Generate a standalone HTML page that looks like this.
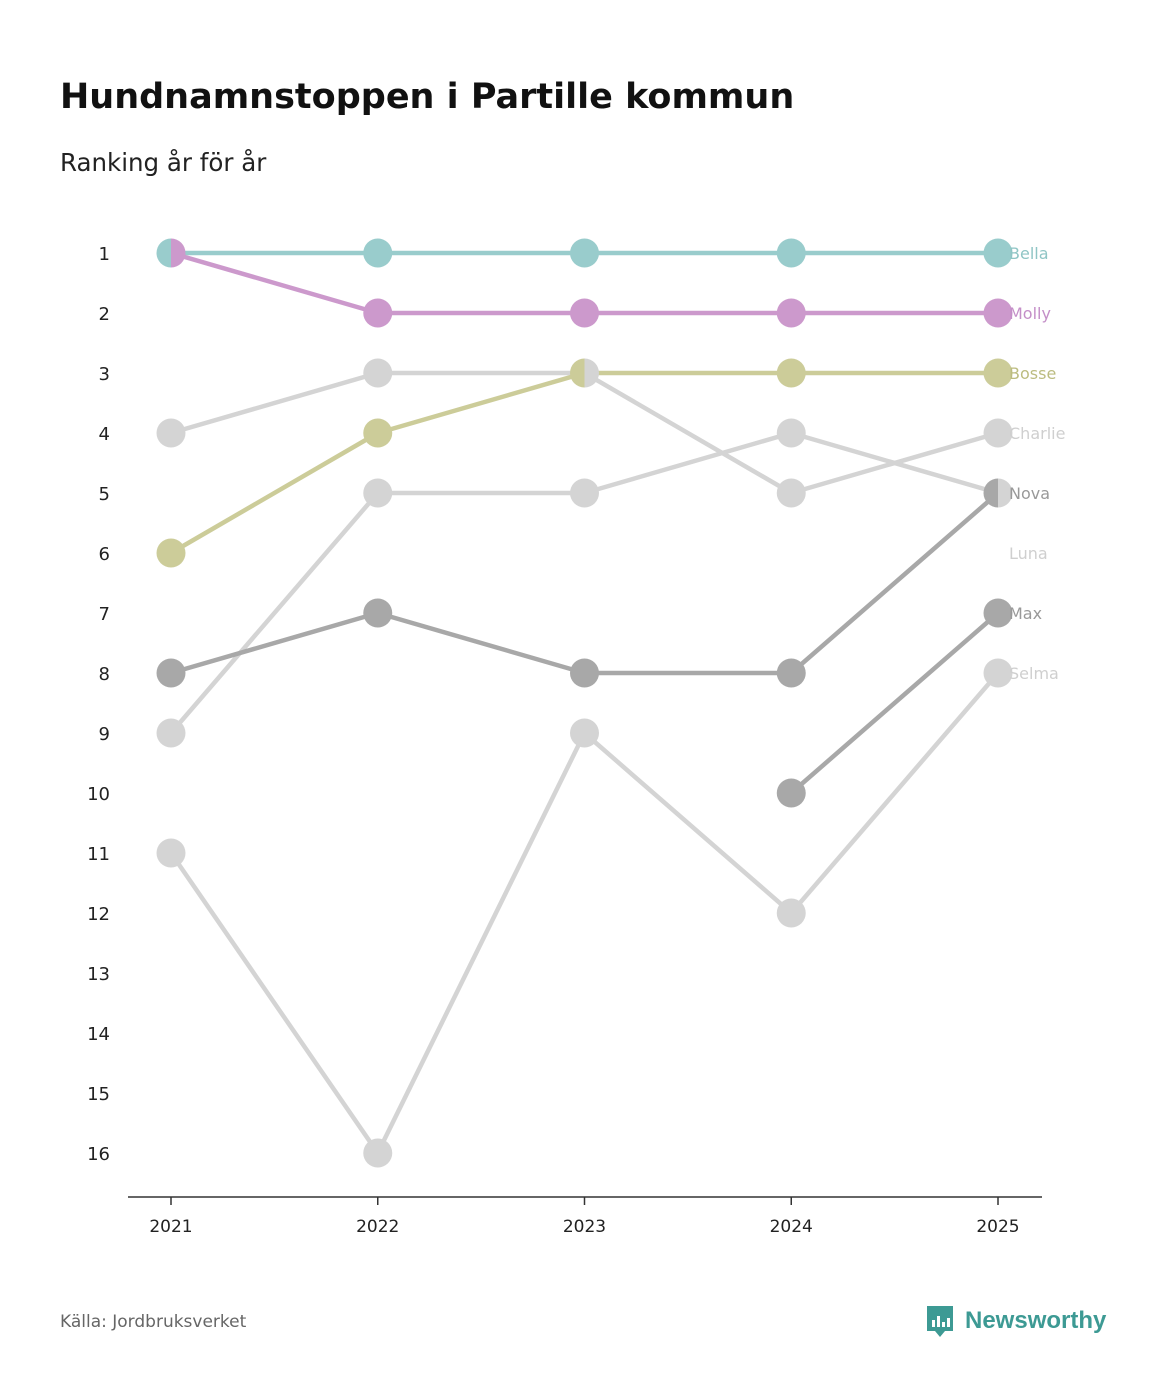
<!DOCTYPE html>
<html><head><meta charset="utf-8">
<style>
body{margin:0;background:#fff;font-family:"DejaVu Sans","Liberation Sans",sans-serif;}
#wrap{position:relative;width:1167px;height:1400px;overflow:hidden;}
</style></head>
<body>
<div id="wrap">
<svg id="chart" width="1167" height="1400" font-family="DejaVu Sans, Liberation Sans, sans-serif">
<text x="60" y="108" font-size="35" font-weight="bold" fill="#111">Hundnamnstoppen i Partille kommun</text>
<text x="60" y="171" font-size="24.5" fill="#222">Ranking år för år</text>
<text x="60" y="1327" font-size="17" fill="#666">Källa: Jordbruksverket</text>
<g>
<path d="M927 1306 h26 v25 h-8 l-5 6 l-5 -6 h-8 z" fill="#3d9a94"/>
<rect x="932" y="1320" width="3" height="7" fill="#fff"/><rect x="937" y="1316" width="3" height="11" fill="#fff"/><rect x="942" y="1322" width="3" height="5" fill="#fff"/><rect x="947" y="1318" width="3" height="9" fill="#fff"/>
<text x="965" y="1328" font-size="24" font-weight="bold" font-family="Liberation Sans, sans-serif" fill="#3d9a94">Newsworthy</text>
</g>
<g id="plot"></g>
</svg>
</div>
<script>
const years=[2021,2022,2023,2024,2025];
const names=["Bella","Molly","Bosse","Charlie","Nova","Luna","Max","Selma"];
const bella=[1,1,1,1,1];
const molly=[1,2,2,2,2];
const bosse=[6,4,3,3,3];
const charlie=[4,3,3,5,4];
const nova=[8,7,8,8,5];
const luna=[9,5,5,4,5];
const max=[null,null,null,10,7];
const selma=[11,16,9,12,8];
const rankTicks=[1,2,3,4,5,6,7,8,9,10,11,12,13,14,15,16];
const values=[bella,molly,bosse,charlie,nova,luna,max,selma];
const colors=["#99cccc","#cc99cc","#cccc99","#d4d4d4","#a8a8a8","#d4d4d4","#a8a8a8","#d4d4d4"];
const labelColors=["#8fc5c5","#c48fc8","#bcbc80","#cfcfcf","#999","#cfcfcf","#999","#cfcfcf"];
const NS="http://www.w3.org/2000/svg";
const g=document.getElementById('plot');
const xS=i=>171+i*((998-171)/(years.length-1));
const yS=r=>253+(r-1)*60;
function el(t,a){const e=document.createElementNS(NS,t);for(const k in a)e.setAttribute(k,a[k]);g.appendChild(e);return e;}
const ax=el('line',{x1:128,x2:1042,y1:1197,y2:1197,stroke:'#333','stroke-width':1.5});


years.forEach((y,i)=>{
 const t=el('line',{x1:xS(i),x2:xS(i),y1:1197,y2:1205,stroke:'#333','stroke-width':1.5});
 
 
 const l=el('text',{x:xS(i),y:1232,'font-size':17,'text-anchor':'middle',fill:'#222'});l.textContent=y;
 
 
});
rankTicks.forEach(r=>{
 const l=el('text',{x:110,y:yS(r)+7,'font-size':18,'text-anchor':'end',fill:'#222'});l.textContent=r;
 
 
});
const order=[3,5,7,4,6,0,1,2];
order.forEach(s=>{
 const v=values[s];let d='';
 v.forEach((r,i)=>{if(r==null)return;d+=(d?'L':'M')+xS(i)+' '+yS(r);});
 const p=el('path',{d:d,fill:'none',stroke:colors[s],'stroke-width':4.5,'stroke-linejoin':'round'});
 
 
});
const R=14.5;
order.forEach(s=>{
 values[s].forEach((r,i)=>{
  if(r==null)return;
  const sharing=[];values.forEach((vv,k)=>{if(vv[i]===r)sharing.push(k);});
  const cx=xS(i),cy=yS(r);
  let c;
  if(sharing.length>1){
   const left=sharing[0]===s;
   c=el('path',{d:left?`M${cx} ${cy-R} A${R} ${R} 0 0 0 ${cx} ${cy+R} Z`:`M${cx} ${cy-R} A${R} ${R} 0 0 1 ${cx} ${cy+R} Z`,fill:colors[s]});
  } else c=el('circle',{cx:cx,cy:cy,r:R,fill:colors[s]});
  
  
 });
});
const last=years.length-1;
const idx=names.map((n,i)=>i).filter(i=>values[i][last]!=null).sort((a,b)=>values[a][last]-values[b][last]||a-b);
let prev=0;
idx.forEach(s=>{
 const pos=Math.max(values[s][last],prev+1);prev=pos;
 const t=el('text',{x:1009,y:yS(pos)+6,'font-size':16,fill:labelColors[s]});t.textContent=names[s];
 
 
});
</script>
</body></html>
